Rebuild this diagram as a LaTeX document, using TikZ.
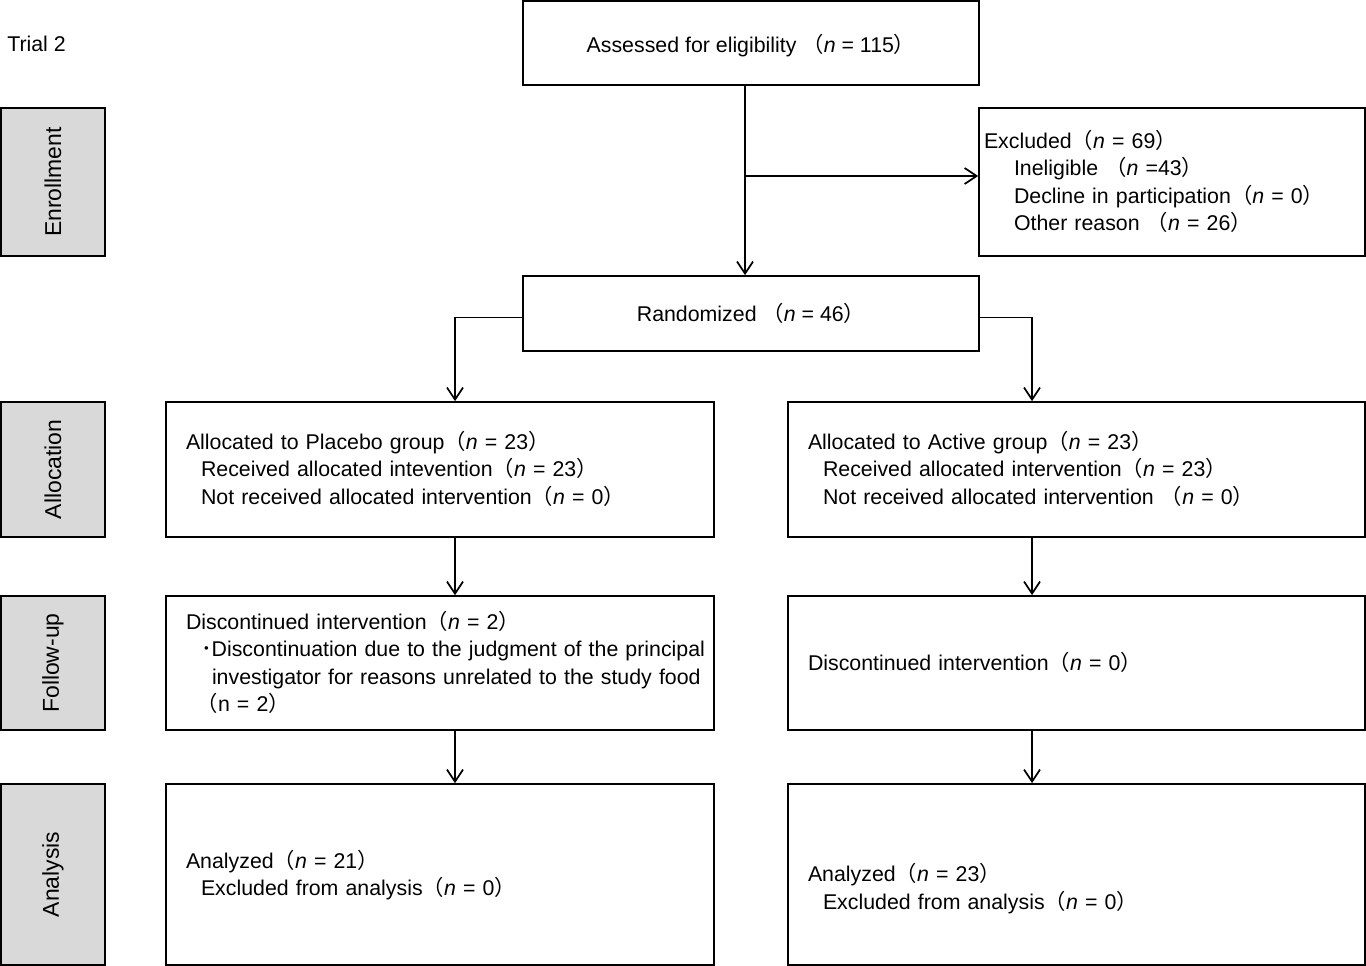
\documentclass[tikz,border=0pt]{standalone}
\usepackage{fontspec}
\setmainfont{Liberation Sans}
\newfontfamily\cjkf{Noto Sans CJK JP}
\usetikzlibrary{arrows.meta}
\newcommand\LP{{\cjkf （}}
\newcommand\RP{{\cjkf ）}}
\newcommand\nn{\textit{n}}
\newcommand\ind{\hspace*{11.25pt}}
\newcommand\tp{\rule{0pt}{17.4pt}}
\begin{document}
\begin{tikzpicture}[x=0.75pt,y=-0.75pt,
  every node/.style={font=\fontsize{16}{20.6}\selectfont, inner sep=0pt},
  box/.style={draw, line width=1.3pt, rectangle},
  side/.style={box, fill=black!15, rotate=90, minimum height=78pt, font=\fontsize{17.2}{20.6}\selectfont},
  txt/.style={box, align=left, inner xsep=15pt},
  arr/.style={line width=1.3pt, -{Straight Barb[length=9pt,width=12pt,line width=1.3pt]}}
]
\useasboundingbox (0,0) rectangle (1366,966);
\fill[white] (0,0) rectangle (1366,966);

\node[anchor=west] (title) at (7,44) {Trial 2};

% side labels
\node[side, minimum width=111pt] (s1) at (53,182) {Enrollment};
\node[side, minimum width=101.25pt] (s2) at (53,469.5) {Allocation};
\node[side, minimum width=100.5pt] (s3) at (53,663) {Follow-up};
\node[side, minimum width=135.75pt] (s4) at (53,874.5) {Analysis};

% top boxes
\node[box, minimum width=342pt, minimum height=63pt] (assess) at (751,43)
  {\tp Assessed for eligibility \LP\nn{} = 115\RP};
\node[txt, inner xsep=3.75pt, text width=282pt, minimum width=289.5pt, minimum height=111pt] (excl) at (1172,182)
  {\begin{tabular}{@{}l@{}}
   \tp Excluded\LP\nn{} = 69\RP\\
   \hspace*{22.5pt}Ineligible \LP\nn{} =43\RP\\
   \hspace*{22.5pt}Decline in participation\LP\nn{} = 0\RP\\
   \hspace*{22.5pt}Other reason \LP\nn{} = 26\RP
   \end{tabular}};
\node[box, minimum width=342pt, minimum height=56.25pt] (rand) at (751,313.5)
  {Randomized \LP\nn{} = 46\RP};

% allocation
\node[txt, text width=381pt, minimum width=411pt, minimum height=101.25pt] (pla) at (440,469.5)
  {\begin{tabular}{@{}l@{}}
   \tp Allocated to Placebo group\LP\nn{} = 23\RP\\
   \ind Received allocated intevention\LP\nn{} = 23\RP\\
   \ind Not received allocated intervention\LP\nn{} = 0\RP
   \end{tabular}};
\node[txt, text width=402.75pt, minimum width=432.75pt, minimum height=101.25pt] (aca) at (1076.5,469.5)
  {\begin{tabular}{@{}l@{}}
   \tp Allocated to Active group\LP\nn{} = 23\RP\\
   \ind Received allocated intervention\LP\nn{} = 23\RP\\
   \ind Not received allocated intervention \LP\nn{} = 0\RP
   \end{tabular}};

% follow-up
\node[txt, text width=381pt, minimum width=411pt, minimum height=100.5pt] (plf) at (440,663)
  {\begin{tabular}{@{}l@{}}
   \tp Discontinued intervention\LP\nn{} = 2\RP\\
   \ind{\cjkf ･}Discontinuation due to the judgment of the principal\\
   \hspace*{19.5pt}investigator for reasons unrelated to the study food\\
   \hspace*{8pt}\LP n = 2\RP
   \end{tabular}};
\node[txt, text width=402.75pt, minimum width=432.75pt, minimum height=100.5pt] (acf) at (1076.5,663)
  {\begin{tabular}{@{}l@{}}
   \tp Discontinued intervention\LP\nn{} = 0\RP
   \end{tabular}};

% analysis
\node[txt, text width=381pt, minimum width=411pt, minimum height=135.75pt] (pln) at (440,874.5)
  {\begin{tabular}{@{}l@{}}
   \tp Analyzed\LP\nn{} = 21\RP\\
   \ind Excluded from analysis\LP\nn{} = 0\RP
   \end{tabular}};
\node[txt, text width=402.75pt, minimum width=432.75pt, minimum height=135.75pt] (acn) at (1076.5,874.5)
  {\begin{tabular}{@{}l@{}}
   \tp\\
   Analyzed\LP\nn{} = 23\RP\\
   \ind Excluded from analysis\LP\nn{} = 0\RP
   \end{tabular}};

% connectors
\coordinate (vx) at (745,0);
\coordinate (br) at (745,176);
\coordinate (lx) at (455,0);
\coordinate (rx) at (1032,0);
\coordinate (ry) at (0,317.5);
\draw[arr] (assess.south -| vx) -- (rand.north -| vx);
\draw[arr] (br) -- (br -| excl.west);
\draw[arr] (rand.west |- ry) -| (pla.north -| lx);
\draw[arr] (rand.east |- ry) -| (aca.north -| rx);
\draw[arr] (pla.south -| lx) -- (plf.north -| lx);
\draw[arr] (aca.south -| rx) -- (acf.north -| rx);
\draw[arr] (plf.south -| lx) -- (pln.north -| lx);
\draw[arr] (acf.south -| rx) -- (acn.north -| rx);
\end{tikzpicture}
\end{document}
